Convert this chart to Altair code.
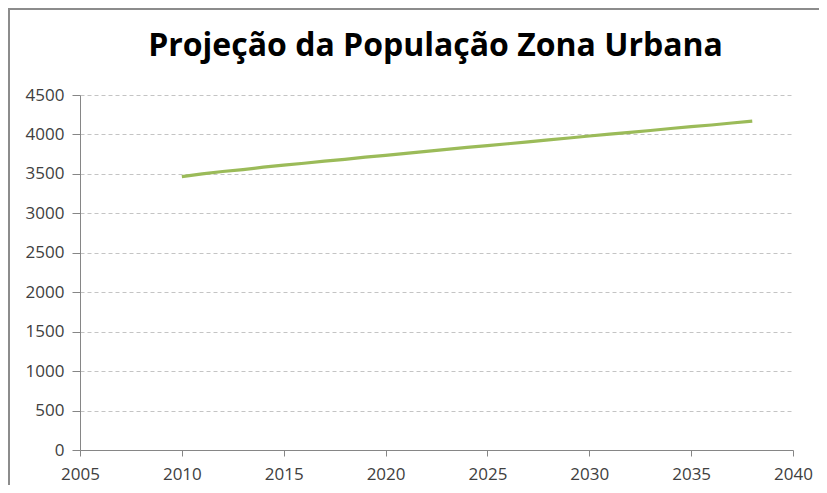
import altair as alt
import pandas as pd

years = list(range(2010, 2039))
populacao = [3465, 3500, 3530, 3555, 3585, 3612, 3635, 3662, 3685, 3712, 3735,
             3760, 3785, 3810, 3835, 3858, 3882, 3905, 3930, 3955, 3980,
             4005, 4027, 4050, 4075, 4100, 4120, 4145, 4170]

df = pd.DataFrame({"ano": years, "pop": populacao})

FONT = "Open Sans"

line = alt.Chart(df).mark_line(color="#9BBB59", strokeWidth=3.2).encode(
    x=alt.X("ano:Q", scale=alt.Scale(domain=[2005, 2040], nice=False, zero=False),
            axis=alt.Axis(values=list(range(2005, 2041, 5)), format="d", title=None,
                          grid=False, domainColor="#868686", tickColor="#868686",
                          tickSize=6, labelPadding=10, labelFont=FONT, labelFontSize=17,
                          labelColor="#404040", labelFlush=False)),
    y=alt.Y("pop:Q", scale=alt.Scale(domain=[0, 4500], nice=False),
            axis=alt.Axis(values=list(range(0, 4501, 500)), format="d", title=None,
                          grid=True, gridColor="#c4c4c4", gridDash=[4, 3], gridWidth=1,
                          domainColor="#868686", tickColor="#868686", tickSize=8,
                          labelPadding=8, labelFont=FONT, labelFontSize=17,
                          labelColor="#404040", labelFlush=False)),
)

border_top = alt.Chart(df).mark_rule(color="#8c8c8c", strokeWidth=1.5, clip=False).encode(
    x=alt.value(-72), x2=alt.value(740), y=alt.value(-86)
)
border_left = alt.Chart(df).mark_rule(color="#8c8c8c", strokeWidth=1.5, clip=False).encode(
    x=alt.value(-71.3), y=alt.value(-86), y2=alt.value(400)
)

chart = alt.layer(line, border_top, border_left).properties(
    width=713, height=355,
    autosize=alt.AutoSizeParams(type="none"),
    padding={"left": 72, "top": 87, "right": 26, "bottom": 35},
    title=alt.TitleParams("Projeção da População Zona Urbana", font=FONT, fontSize=32,
                          fontWeight="bold", color="#000000", anchor="middle",
                          baseline="alphabetic", offset=0, dy=80, dx=-1),
).configure_view(stroke=None)

chart.save("out.html", embed_options={"renderer": "svg", "actions": False})
